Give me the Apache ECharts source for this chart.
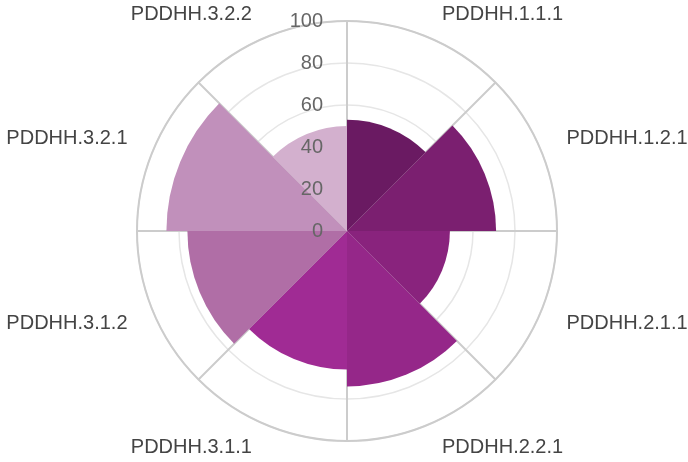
<!DOCTYPE html>
<html><head><meta charset="utf-8">
<script src="https://cdn.jsdelivr.net/npm/echarts@6/dist/echarts.min.js"></script>
<style>html,body{margin:0;padding:0;background:#fff}#c{width:688px;height:462px}</style>
</head><body><div id="c"></div>
<script>
const categories = ['PDDHH.1.1.1','PDDHH.1.2.1','PDDHH.2.1.1','PDDHH.2.2.1','PDDHH.3.1.1','PDDHH.3.1.2','PDDHH.3.2.1','PDDHH.3.2.2'];
const values = [53, 71, 49, 74, 66, 76, 86, 50];
const colors = ['#6a1a62','#7b1f70','#89237d','#952789','#a02b94','#b06ea6','#c190bb','#d3b0ce'];
const radiusTicks = [0, 20, 40, 60, 80, 100];

const font = 'Liberation Sans, Arial, sans-serif';
const rMin = radiusTicks[0], rMax = radiusTicks[radiusTicks.length-1], rStep = radiusTicks[1] - radiusTicks[0];
const chart = echarts.init(document.getElementById('c'), null, {renderer:'canvas'});
chart.setOption({
  animation: false,
  polar: [{ center: [347, 231], radius: 210 }, { center: [347, 231], radius: 210 }],
  angleAxis: [{
    polarIndex: 0, type: 'category', data: categories, startAngle: 90, clockwise: true, z: 0,
    boundaryGap: true,
    axisLine: { show: true, lineStyle: { color: '#cccccc', width: 2 } },
    axisTick: { show: false },
    splitLine: { show: true, interval: 0, lineStyle: { color: '#cccccc', width: 2 } },
    axisLabel: { margin: 20, padding: [-6, 7, -6, 7], fontSize: 20, color: '#444', fontFamily: font }
  }, {
    polarIndex: 1, type: 'category', data: categories, startAngle: 90, clockwise: true, z: 0,
    axisLine: { show: false }, axisTick: { show: false }, splitLine: { show: false }, axisLabel: { show: false }
  }],
  radiusAxis: [{
    polarIndex: 0, type: 'value', min: rMin, max: rMax, interval: rStep, z: 0,
    axisLine: { show: false }, axisTick: { show: false },
    splitLine: { show: true, lineStyle: { color: '#e6e6e6', width: 1.5 } },
    axisLabel: { show: false }
  }, {
    polarIndex: 1, type: 'value', min: rMin, max: rMax, interval: rStep, z: 10,
    axisLine: { show: false }, axisTick: { show: false }, splitLine: { show: false },
    axisLabel: { margin: 24, fontSize: 20, color: '#666', fontFamily: font }
  }],
  series: [{
    type: 'bar', coordinateSystem: 'polar', polarIndex: 0, barCategoryGap: '0%', z: 2,
    data: values.map((v, i) => ({ value: v, itemStyle: { color: colors[i] } }))
  }]
});
</script></body></html>
